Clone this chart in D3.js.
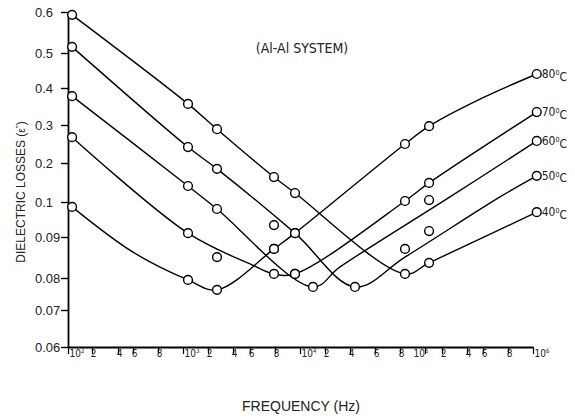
<!DOCTYPE html>
<html>
<head>
<meta charset="utf-8">
<script src="https://cdn.jsdelivr.net/npm/d3@7"></script>
<style>
  body { margin: 0; background: #fff; }
  svg { display: block; }
  .curve { fill: none; stroke: #000; stroke-width: 1.4; }
  .pt { fill: #fff; stroke: #000; stroke-width: 1.4; }
  .narrow { font-family: "Liberation Sans Narrow", "Arial Narrow", "DejaVu Sans Condensed", sans-serif; }
  .sans { font-family: "Liberation Sans", Arial, sans-serif; }
</style>
</head>
<body>
<svg id="chart" width="575" height="418"></svg>
<script>
// Eje Y no uniforme: cada marca ocupa el mismo hueco
const yTickValues = [0.06, 0.07, 0.08, 0.09, 0.1, 0.2, 0.3, 0.4, 0.5, 0.6];
const yTickLabels = ["0.06", "0.07", "0.08", "0.09", "0.1", "0.2", "0.3", "0.4", "0.5", "0.6"];

// Eje X de frecuencia (Hz), marcas 10^n, 2, 4, 6, 8
const xTickValues = [1e2, 2e2, 4e2, 6e2, 8e2, 1e3, 2e3, 4e3, 6e3, 8e3, 1e4, 2e4, 4e4, 6e4, 8e4,
                     1e5, 2e5, 4e5, 6e5, 8e5, 1e6];
const xTickLabels = ["10^2", "2", "4", "6", "8", "10^3", "2", "4", "6", "8", "10^4", "2", "4", "6", "8",
                     "10^5", "2", "4", "6", "8", "10^6"];

// Temperaturas de cada serie
const tempLabels = ["40", "50", "60", "70", "80"];

// Puntos medidos [frecuencia, perdidas]
const pts40 = [[117, 0.593], [1200, 0.357], [2720, 0.289], [7920, 0.164], [9600, 0.123], [84000, 0.081], [124000, 0.0837], [1.03e6, 0.0971]];
const pts50 = [[117, 0.515], [1200, 0.242], [2720, 0.185], [7920, 0.0934], [9600, 0.0911], [44000, 0.0772], [84000, 0.0871], [124000, 0.0917], [1.03e6, 0.167]];
const pts60 = [[117, 0.378], [1200, 0.141], [2720, 0.098], [7920, 0.0871], [9600, 0.081], [15200, 0.0772], [124000, 0.105], [1.03e6, 0.258]];
const pts70 = [[117, 0.268], [1200, 0.0911], [2720, 0.0851], [7920, 0.081], [9600, 0.081], [84000, 0.1026], [124000, 0.149], [1.03e6, 0.335]];
const pts80 = [[117, 0.0986], [1200, 0.0794], [2720, 0.0763], [7920, 0.0871], [9600, 0.0911], [84000, 0.25], [124000, 0.297], [1.03e6, 0.44]];

// Curvas de ajuste dibujadas a mano en el original
const fit40 = [[117, 0.593], [1200, 0.357], [2720, 0.289], [7920, 0.164], [9600, 0.123], [84000, 0.081], [124000, 0.0837], [1.03e6, 0.0971]];
const fit50 = [[117, 0.515], [1200, 0.242], [2720, 0.185], [9600, 0.0911], [44000, 0.0772], [84000, 0.0851], [736000, 0.113], [1.03e6, 0.167]];
const fit60 = [[117, 0.378], [1200, 0.141], [2720, 0.098], [15200, 0.0772], [32000, 0.0827], [264000, 0.113], [1.03e6, 0.258]];
const fit70 = [[117, 0.268], [1200, 0.0911], [6160, 0.0832], [7920, 0.081], [9600, 0.081], [84000, 0.1026], [124000, 0.149], [1.03e6, 0.335]];
const fit80 = [[117, 0.0986], [600, 0.0863], [1200, 0.0794], [2720, 0.0763], [7920, 0.0871], [9600, 0.0911], [84000, 0.25], [124000, 0.297], [562500, 0.370], [1.03e6, 0.44]];

const allPts = [pts40, pts50, pts60, pts70, pts80];
const allFits = [fit40, fit50, fit60, fit70, fit80];

let svg, x, y, lineGen;

function initChart() {
  svg = d3.select("#chart");

  // escalas por tramos: el eje original no es log puro
  x = d3.scaleLinear()
    .domain(xTickValues)
    .range([68, 92, 118, 133, 158, 183, 208, 233, 250, 275, 300, 325, 350, 375, 400, 425, 442, 467, 483, 508, 533]);
  y = d3.scaleLinear()
    .domain(yTickValues)
    .range([347, 310, 278, 237, 202, 163, 125, 88, 53, 12]);

  lineGen = d3.line()
    .x(d => x(d[0]))
    .y(d => y(d[1]))
    .curve(d3.curveCatmullRom.alpha(0.5));

  // Eje Y
  const gy = svg.append('g')
    .attr('transform', 'translate(68,0)')
    .call(d3.axisLeft(y).tickValues(yTickValues).tickSize(7).tickSizeOuter(0)
      .tickFormat((d, i) => yTickLabels[i]));
  gy.select('.domain').attr('stroke-width', 1.8);
  gy.selectAll('.tick line').attr('stroke-width', 1.4);
  gy.selectAll('.tick text')
    .attr('x', -33)
    .attr('text-anchor', 'start')
    .attr('class', 'sans')
    .style('font-size', '13px')
    .attr('fill', '#222');

  // Eje X
  const gx = svg.append('g')
    .attr('transform', 'translate(0,347)')
    .call(d3.axisBottom(x).tickValues(xTickValues).tickSize(7).tickSizeOuter(0).tickFormat(''));
  gx.select('.domain').attr('stroke-width', 1.8);
  gx.selectAll('.tick line').attr('stroke-width', 1.2);
  gx.selectAll('.tick').each(function(d, i) {
    const parts = xTickLabels[i].split('^');
    const t = d3.select(this).append('text')
      .attr('class', 'narrow')
      .attr('y', 10)
      .attr('fill', '#222')
      .style('font-size', '10px');
    if (parts.length > 1) {
      // si la marca siguiente esta muy cerca, la etiqueta va a la izquierda
      const next = xTickValues[i + 1];
      const tight = next !== undefined && x(next) - x(d) < 20;
      t.attr('x', tight ? 3 : 1).attr('text-anchor', tight ? 'end' : 'start');
      t.append('tspan').text(parts[0]);
      t.append('tspan').attr('dy', -4).style('font-size', '6px').text(parts[1]);
    } else {
      t.attr('x', 1).attr('text-anchor', 'middle').text(parts[0]);
    }
  });

  // Curvas
  svg.append('g').selectAll('.curve')
    .data(allFits)
    .enter().append('path')
    .attr('class', 'curve')
    .attr('d', lineGen);

  // Puntos
  allPts.forEach(pts => {
    svg.append('g').selectAll('.pt')
      .data(pts)
      .enter().append('circle')
      .attr('class', 'pt')
      .attr('r', 4.4)
      .attr('cx', d => x(d[0]))
      .attr('cy', d => y(d[1]));
  });

  // Etiquetas de temperatura al final de cada serie
  allPts.forEach((pts, i) => {
    const last = pts[pts.length - 1];
    const t = svg.append('text')
      .attr('class', 'narrow')
      .attr('x', x(last[0]) + 5)
      .attr('y', y(last[1]))
      .attr('dy', '0.36em')
      .attr('fill', '#222')
      .style('font-size', '12px');
    t.append('tspan').text(tempLabels[i]);
    t.append('tspan').attr('dy', '-0.45em').style('font-size', '7px').text('0');
    t.append('tspan').attr('dy', '0.45em').text('C');
  });

  // Titulos
  svg.append('text')
    .attr('class', 'narrow')
    .attr('x', 302).attr('y', 53)
    .attr('text-anchor', 'middle')
    .attr('fill', '#222')
    .style('font-size', '14px')
    .text('(Al-Al SYSTEM)');

  svg.append('text')
    .attr('class', 'sans')
    .attr('x', 301).attr('y', 411)
    .attr('text-anchor', 'middle')
    .attr('fill', '#222')
    .style('font-size', '14px')
    .text('FREQUENCY (Hz)');

  const yl = svg.append('text')
    .attr('class', 'sans')
    .attr('transform', 'translate(25,192) rotate(-90)')
    .attr('text-anchor', 'middle')
    .attr('fill', '#222')
    .style('font-size', '12px');
  yl.append('tspan').text('DIELECTRIC LOSSES (');
  yl.append('tspan').style('font-size', '10px').text('ε');
  yl.append('tspan').attr('dy', -4).style('font-size', '8px').text('"');
  yl.append('tspan').attr('dy', 4).text(')');
}

initChart();
</script>
</body>
</html>
